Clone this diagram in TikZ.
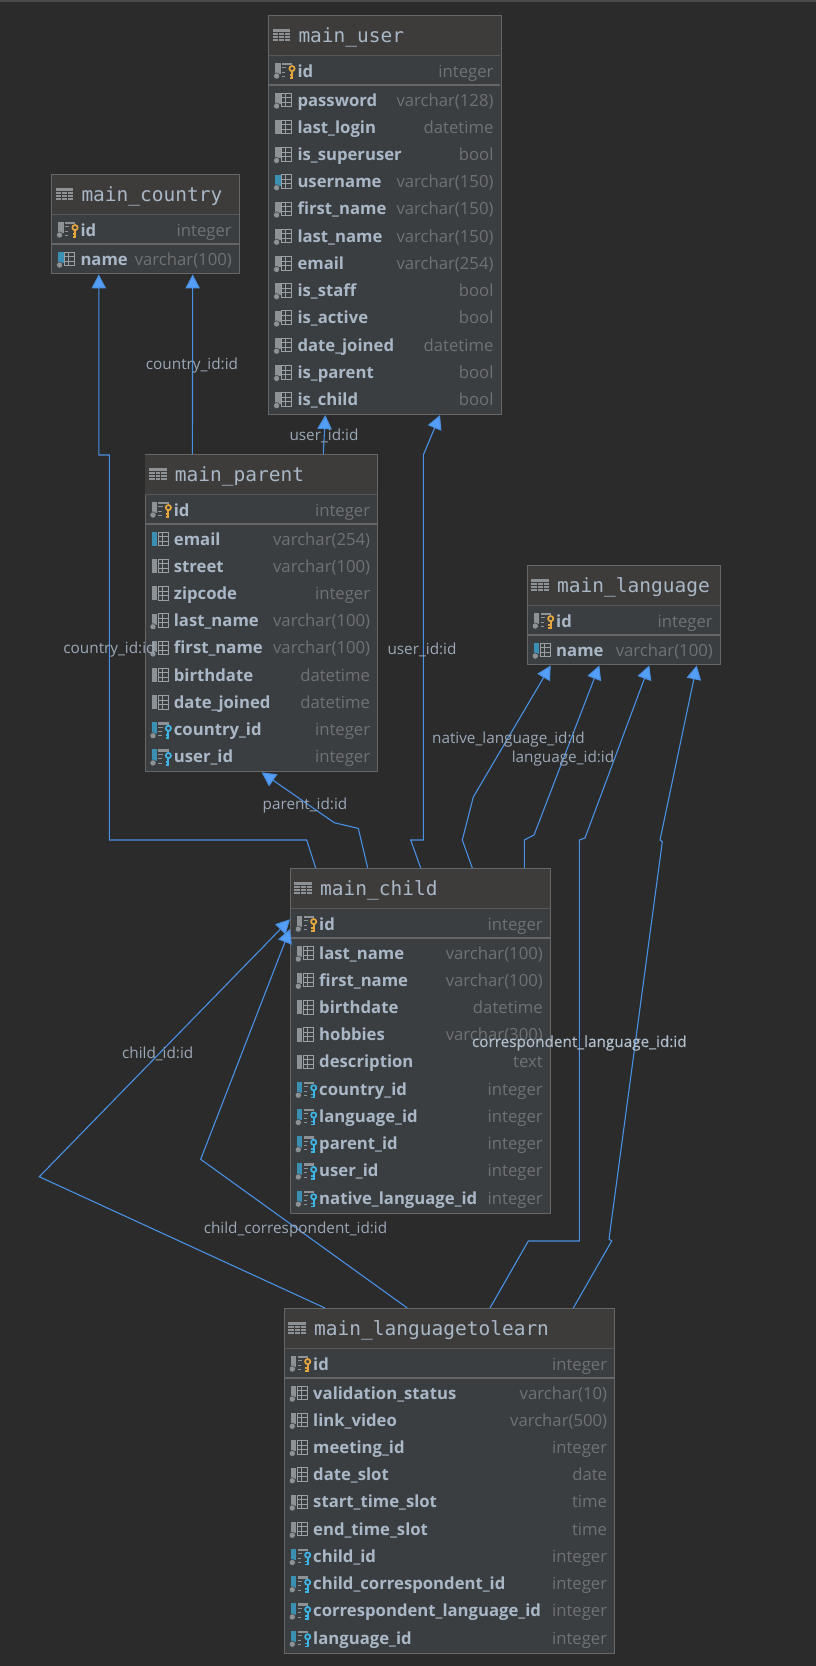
\documentclass[tikz,border=0pt]{standalone}
\usepackage{fontspec}
\setmainfont{Open Sans}
\newfontfamily\monofam{DejaVu Sans Mono}
\newfontfamily\heavyfam[FakeBold=0.35]{Open Sans}
\usetikzlibrary{arrows.meta,positioning}
\catcode`\_=12

\definecolor{canvas}{HTML}{2B2B2B}
\definecolor{topstrip}{HTML}{4A4A4A}
\definecolor{bodyfill}{HTML}{3B3E41}
\definecolor{headfill}{HTML}{3D3C3B}
\definecolor{edgegray}{HTML}{666666}
\definecolor{inktext}{HTML}{A9B7C6}
\definecolor{typetext}{HTML}{6F7173}
\definecolor{iconbar}{HTML}{8C9296}
\definecolor{icongrid}{HTML}{9AA1A6}
\definecolor{uniqbar}{HTML}{3A8FB2}
\definecolor{pkgold}{HTML}{E5A73D}
\definecolor{fkcyan}{HTML}{3DB5E6}
\definecolor{linkblue}{HTML}{4A90E2}
\definecolor{tipblue}{HTML}{549EF8}

\tikzset{
  tablebox/.style={draw=edgegray, line width=1pt, fill=bodyfill, anchor=north west, inner sep=0pt},
  titletext/.style={font=\monofam\fontsize{19.5}{20}\selectfont, text=inktext, anchor=base west, inner sep=0pt},
  rowname/.style={font=\bfseries\fontsize{16.7}{18}\selectfont, text=inktext, anchor=base west, inner sep=0pt},
  rowtype/.style={font=\fontsize{16.7}{18}\selectfont, text=typetext, anchor=base east, inner sep=0pt},
  linklabel/.style={font=\fontsize{15.3}{17}\selectfont, text=inktext!92!black, inner sep=0pt},
  fklink/.style={draw=linkblue, line width=1.1pt, -{Triangle[width=14.5pt,length=14pt,fill=tipblue]}},
  % table glyph of the title bar
  pics/tableglyph/.style={code={
    \fill[iconbar] (0,-6.4) rectangle (17.7,6.4);
    \foreach \gx in {5.9,11.8} \draw[headfill, line width=.7pt] (\gx,-3) -- (\gx,6.4);
    \foreach \gy in {-3,0.2,3.3} \draw[headfill, line width=.7pt] (0,\gy) -- (17.7,\gy);
  }},
  % grid on the right of a column glyph
  pics/gridglyph/.style={code={
    \draw[icongrid, line width=.9pt] (6.6,-7) rectangle (16.6,6.6);
    \draw[icongrid, line width=.9pt] (10.6,-7) -- (10.6,6.6);
    \foreach \gy in {-2.4,2.1} \draw[icongrid, line width=.9pt] (6.6,\gy) -- (16.6,\gy);
  }},
  % key glyph, used for primary and foreign keys
  pics/keyglyph/.style={code={
    \draw[#1, line width=1.7pt] (16.8,-1.4) circle (2.6);
    \draw[#1, line width=1.9pt] (16.8,1.2) -- (16.8,9);
    \draw[#1, line width=1.5pt] (16.8,5.2) -- (14.4,5.2) (16.8,8.2) -- (14.4,8.2);
  }},
  pics/stubglyph/.style={code={
    \fill[#1] (0,-7.5) rectangle (5.3,4);
    \fill[iconbar] (6.6,-7.5) rectangle (17,-5);
    \draw[iconbar, line width=1pt] (6.6,-2.5) -- (11,-2.5) (6.6,2) -- (10,2) (6.6,6.3) -- (10,6.3);
    \fill[iconbar, draw=bodyfill, line width=.5pt] (1.4,6) circle (3.1);
  }},
  pics/col/.style={code={
    \fill[iconbar] (0,-7.2) rectangle (5.3,6.8);
    \pic {gridglyph};
  }},
  pics/coldot/.style={code={
    \fill[iconbar] (0,-7.2) rectangle (5.3,4);
    \pic {gridglyph};
    \fill[iconbar, draw=bodyfill, line width=.5pt] (1.4,6) circle (3.1);
  }},
  pics/uni/.style={code={
    \fill[uniqbar] (0,-7.2) rectangle (5.3,6.8);
    \pic {gridglyph};
  }},
  pics/unidot/.style={code={
    \fill[uniqbar] (0,-7.2) rectangle (5.3,4);
    \pic {gridglyph};
    \fill[iconbar, draw=bodyfill, line width=.5pt] (1.4,6) circle (3.1);
  }},
  pics/pk/.style={code={
    \pic {stubglyph=iconbar};
    \pic {keyglyph=pkgold};
  }},
  pics/fk/.style={code={
    \pic {stubglyph=uniqbar};
    \pic {keyglyph=fkcyan};
  }},
}

% name, left, top, width, number of rows, rows
\newcommand{\dbtable}[6]{
  \begin{scope}[shift={(#2,#3)}]
    \pgfmathsetmacro{\tableh}{72.2+27.24*#5}
    \node[tablebox, minimum width=#4pt, minimum height=\tableh pt] (#1) at (0,0) {};
    \fill[headfill] (0.5,0.5) rectangle (#4-0.5,40);
    \draw[edgegray!85!black, line width=1pt] (0.5,40) -- (#4-0.5,40);
    \draw[edgegray, line width=2pt] (0.5,70) -- (#4-0.5,70);
    \pic at (4.3,20) {tableglyph};
    \node[titletext] (#1-title) at (30,27.6) {#1};
    % key row
    \pic at (6.9,55) {pk};
    \node[rowname] (#1-id) at (29,62.5) {id};
    \node[rowtype] (#1-idtype) at (#4-7,62.5) {integer};
    % remaining rows
    \foreach \colname/\coltype/\colicon [count=\rowi] in {#6} {
      \pic at (6.9,{85+27.24*(\rowi-1)}) {\colicon};
      \node[rowname] (#1-\rowi) at (29,{91+27.24*(\rowi-1)}) {\colname};
      \node[rowtype] (#1-\rowi-type) at (#4-7,{91+27.24*(\rowi-1)}) {\coltype};
    }
  \end{scope}
}

\begin{document}
\begin{tikzpicture}[x=1pt, y=-1pt]
  \useasboundingbox (0,0) rectangle (816,1666);
  \fill[canvas] (0,0) rectangle (816,1666);
  \fill[topstrip] (0,0) rectangle (816,1.6);

  % Tables
  \dbtable{main_user}{268.3}{15}{232.4}{12}{password/varchar(128)/coldot, last_login/datetime/col, is_superuser/bool/coldot, username/varchar(150)/unidot, first_name/varchar(150)/coldot, last_name/varchar(150)/coldot, email/varchar(254)/coldot, is_staff/bool/coldot, is_active/bool/coldot, date_joined/datetime/coldot, is_parent/bool/coldot, is_child/bool/coldot}
  \dbtable{main_country}{51.3}{174}{187.7}{1}{name/varchar(100)/unidot}
  \dbtable{main_parent}{144.7}{454}{232.6}{9}{email/varchar(254)/uni, street/varchar(100)/col, zipcode/integer/col, last_name/varchar(100)/coldot, first_name/varchar(100)/coldot, birthdate/datetime/col, date_joined/datetime/col, country_id/integer/fk, user_id/integer/fk}
  \dbtable{main_language}{527}{565}{193}{1}{name/varchar(100)/unidot}
  \dbtable{main_child}{290}{868}{260}{10}{last_name/varchar(100)/coldot, first_name/varchar(100)/coldot, birthdate/datetime/col, hobbies/varchar(300)/col, description/text/col, country_id/integer/fk, language_id/integer/fk, parent_id/integer/fk, user_id/integer/fk, native_language_id/integer/fk}
  \dbtable{main_languagetolearn}{284}{1308}{330.3}{10}{validation_status/varchar(10)/coldot, link_video/varchar(500)/coldot, meeting_id/integer/coldot, date_slot/date/coldot, start_time_slot/time/coldot, end_time_slot/time/coldot, child_id/integer/fk, child_correspondent_id/integer/fk, correspondent_language_id/integer/fk, language_id/integer/fk}

  % Links to main_country
  \draw[fklink] ([xshift=47.7pt]main_parent.north west) -- ([xshift=141.4pt]main_country.south west);
  \draw[fklink] ([xshift=25.7pt]main_child.north west) -- (306.7,840) -- (109.4,840) -- (109.4,455) -- (98.8,455) -- ([xshift=47.5pt]main_country.south west);

  % Links to main_user
  \draw[fklink] ([xshift=178.6pt]main_parent.north west) -- ([xshift=57pt]main_user.south west);
  \draw[fklink] ([xshift=130.7pt]main_child.north west) -- (410.7,840) -- (423.3,840) -- (423.3,455) -- ([xshift=171.7pt]main_user.south west);

  % Link to main_parent
  \draw[fklink] ([xshift=77.7pt]main_child.north west) -- (358.3,828.4) -- (334.3,822.7) -- ([xshift=117pt]main_parent.south west);

  % Links to main_language
  \draw[fklink] ([xshift=182.3pt]main_child.north west) -- (462.3,840) -- (473.3,797) -- ([xshift=23.7pt]main_language.south west);
  \draw[fklink] ([xshift=234.3pt]main_child.north west) -- (524.3,840) -- (534,835) -- ([xshift=72.3pt]main_language.south west);
  \draw[fklink] ([xshift=206pt]main_languagetolearn.north west) -- (528.3,1241) -- (579.3,1241) -- (579.3,840) -- (585,838) -- ([xshift=122.3pt]main_language.south west);
  \draw[fklink] ([xshift=289.3pt]main_languagetolearn.north west) -- (611.7,1241) -- (609,1239) -- (662.3,841.7) -- (660,840) -- ([xshift=169.7pt]main_language.south west);

  % Links to main_child
  \draw[fklink] ([xshift=41pt]main_languagetolearn.north west) -- (39.3,1176.7) -- ([yshift=-51.3pt]main_child.north west);
  \draw[fklink] ([xshift=123.3pt]main_languagetolearn.north west) -- (200.7,1159.3) -- ([yshift=-61pt]main_child.north west);

  % Link labels
  \node[linklabel] (lbl_country_top) at (192,365.5) {country_id:id};
  \node[linklabel] (lbl_user_top) at (324,436) {user_id:id};
  \node[linklabel] (lbl_country_left) at (109.5,649.5) {country_id:id};
  \node[linklabel] (lbl_user_right) at (422,649.5) {user_id:id};
  \node[linklabel] (lbl_parent) at (305,805.5) {parent_id:id};
  \node[linklabel] (lbl_native) at (508.5,739.5) {native_language_id:id};
  \node[linklabel] (lbl_language) at (563,758.5) {language_id:id};
  \node[linklabel, font=\heavyfam\fontsize{15.3}{17}\selectfont, text=inktext!90!white] (lbl_correspondent) at (579.3,1043) {correspondent_language_id:id};
  \node[linklabel] (lbl_child) at (157.7,1054) {child_id:id};
  \node[linklabel] (lbl_child_corr) at (295.5,1229.5) {child_correspondent_id:id};
\end{tikzpicture}
\end{document}
